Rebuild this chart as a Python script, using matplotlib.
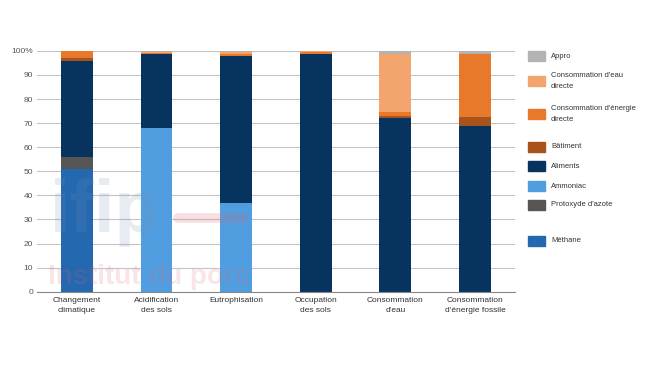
import matplotlib.pyplot as plt
from matplotlib.patches import Rectangle
from matplotlib.lines import Line2D
import numpy as np

plt.rcParams['font.family'] = ['Liberation Sans', 'DejaVu Sans']

categories = ["Changement\nclimatique", "Acidification\ndes sols", "Eutrophisation",
              "Occupation\ndes sols", "Consommation\nd'eau", "Consommation\nd'énergie fossile"]

# stacked from bottom to top
methane = [51, 0, 0, 0, 0, 0]
protoxyde = [5, 0, 0, 0, 0, 0]
ammoniac = [0, 68, 37, 0, 0, 0]
aliments = [40, 30.5, 61, 98.5, 72, 69]
batiment = [1, 0, 0, 0, 1, 3.5]
energie = [3, 0.5, 0.7, 1, 1.7, 26]
eau = [0, 0.7, 1, 0.5, 24, 0]
appro = [0, 0.3, 0.3, 0, 1.3, 1.5]

series = [
    ("Méthane", methane, "#2468b0"),
    ("Protoxyde d'azote", protoxyde, "#555555"),
    ("Ammoniac", ammoniac, "#509ee0"),
    ("Aliments", aliments, "#07345e"),
    ("Bâtiment", batiment, "#a9531c"),
    ("Consommation d'énergie\ndirecte", energie, "#e8782a"),
    ("Consommation d'eau\ndirecte", eau, "#f2a56c"),
    ("Appro", appro, "#b3b3b3"),
]

fig = plt.figure(figsize=(6.5, 3.66), dpi=100)
ax = fig.add_axes([0.057, 0.203, 0.735, 0.658])

x = np.arange(len(categories))
bottom = np.zeros(len(categories))
for name, vals, col in series:
    ax.bar(x, vals, width=0.4, bottom=bottom, color=col, zorder=2)
    bottom += np.array(vals)

ax.set_xlim(-0.5, 5.5)
ax.set_ylim(0, 100)
ax.set_yticks(range(0, 101, 10))
ax.set_yticklabels([str(v) for v in range(0, 100, 10)] + ["100%"])
ax.yaxis.grid(True, color="#c4c4c4", linewidth=0.8, zorder=0)
ax.set_xticks(x)
ax.set_xticklabels(categories, fontsize=6, color="#333333", linespacing=1.5)
ax.tick_params(axis='y', labelsize=6, labelcolor="#555555", length=0, pad=3)
ax.tick_params(axis='x', length=0, pad=4)
for s in ["top", "right", "left"]:
    ax.spines[s].set_visible(False)
ax.spines["bottom"].set_color("#888888")

# watermark
W, H = 650, 366
fig.text(50 / W, 1 - 232 / H, "ifip", fontsize=53, fontweight="bold", color="#6f8fb0",
         alpha=0.17, zorder=5, va="baseline")
fig.lines.append(Line2D([178 / W, 243 / W], [1 - 218 / H, 1 - 218 / H], transform=fig.transFigure,
                        color="#e06070", alpha=0.2, linewidth=7, solid_capstyle="round", zorder=5))
fig.text(48 / W, 1 - 284 / H, "Institut du porc", fontsize=20, fontweight="bold", color="#e06070",
         alpha=0.17, zorder=5, va="baseline")

# legend on the right
legend_rows = [
    ("Appro", 56, "#b3b3b3"),
    ("Consommation d'eau\ndirecte", 81, "#f2a56c"),
    ("Consommation d'énergie\ndirecte", 114, "#e8782a"),
    ("Bâtiment", 147, "#a9531c"),
    ("Aliments", 166, "#07345e"),
    ("Ammoniac", 186, "#509ee0"),
    ("Protoxyde d'azote", 205, "#555555"),
    ("Méthane", 241, "#2468b0"),
]
for label, ypix, col in legend_rows:
    fig.patches.append(Rectangle((528 / W, 1 - (ypix + 5) / H), 17 / W, 10 / H,
                                 transform=fig.transFigure, color=col, figure=fig))
    fig.text(551 / W, 1 - ypix / H, label, fontsize=5.5, color="#333333",
             va="center", ha="left", linespacing=1.9)

fig.savefig("out.png", dpi=100)
